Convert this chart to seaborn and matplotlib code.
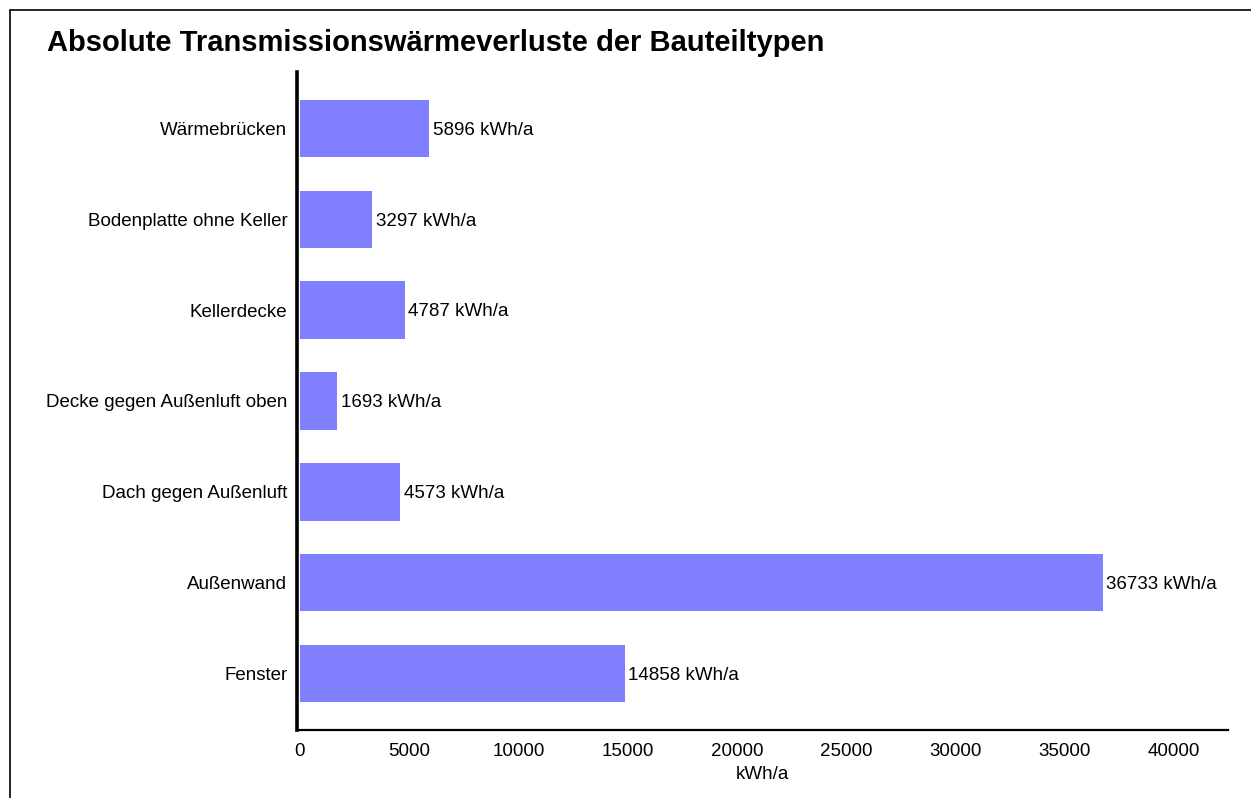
import matplotlib
matplotlib.use("Agg")
import matplotlib.pyplot as plt
import seaborn as sns
import pandas as pd
from matplotlib.lines import Line2D

categories = ["Wärmebrücken", "Bodenplatte ohne Keller", "Kellerdecke",
              "Decke gegen Außenluft oben", "Dach gegen Außenluft",
              "Außenwand", "Fenster"]
values = [5896, 3297, 4787, 1693, 4573, 36733, 14858]
xticks = [0, 5000, 10000, 15000, 20000, 25000, 30000, 35000, 40000]

df = pd.DataFrame({"Bauteil": categories, "Wert": values})

sns.set_theme(style="white")
plt.rcParams['font.family'] = ['Liberation Sans', 'DejaVu Sans']

fig = plt.figure(figsize=(12.51, 7.98), dpi=100)
ax = fig.add_axes([297/1251, 1-730/798, (1228-297)/1251, (730-72)/798])

sns.barplot(data=df, x="Wert", y="Bauteil", order=categories, orient="h",
            color="#8080FF", saturation=1, width=0.63, linewidth=0, ax=ax)

for i, v in enumerate(values):
    ax.text(v + 170, i + 0.02, f"{v} kWh/a", va="center", ha="left",
            fontsize=13.5, color="black")

ax.set_xlim(-137, 42471)
ax.set_ylim(6.62, -0.62)
ax.set_xticks(xticks)
ax.set_xticklabels([str(t) for t in xticks], fontsize=13.5)
ax.tick_params(axis="x", which="major", length=5, width=1.2, color="#808080",
               direction="out", pad=4, labelcolor="black")
ax.tick_params(axis="y", length=0, pad=7, labelsize=13.5, labelcolor="black")
ax.set_ylabel("")
ax.set_xlabel("kWh/a", fontsize=13.5, labelpad=5, color="black")

for s in ["top", "right"]:
    ax.spines[s].set_visible(False)
ax.spines["left"].set_linewidth(2.6)
ax.spines["left"].set_color("black")
ax.spines["bottom"].set_linewidth(1.6)
ax.spines["bottom"].set_color("black")

fig.text(47/1251, 1-43/798, "Absolute Transmissionswärmeverluste der Bauteiltypen",
         fontsize=21, fontweight="bold", ha="left", va="center", color="black")

fig.add_artist(Line2D([10/1251, 10/1251], [0, 1-10/798], transform=fig.transFigure,
                      color="black", linewidth=1.2))
fig.add_artist(Line2D([10/1251, 1], [1-10/798, 1-10/798], transform=fig.transFigure,
                      color="black", linewidth=1.2))

fig.savefig("out.png", dpi=100)
